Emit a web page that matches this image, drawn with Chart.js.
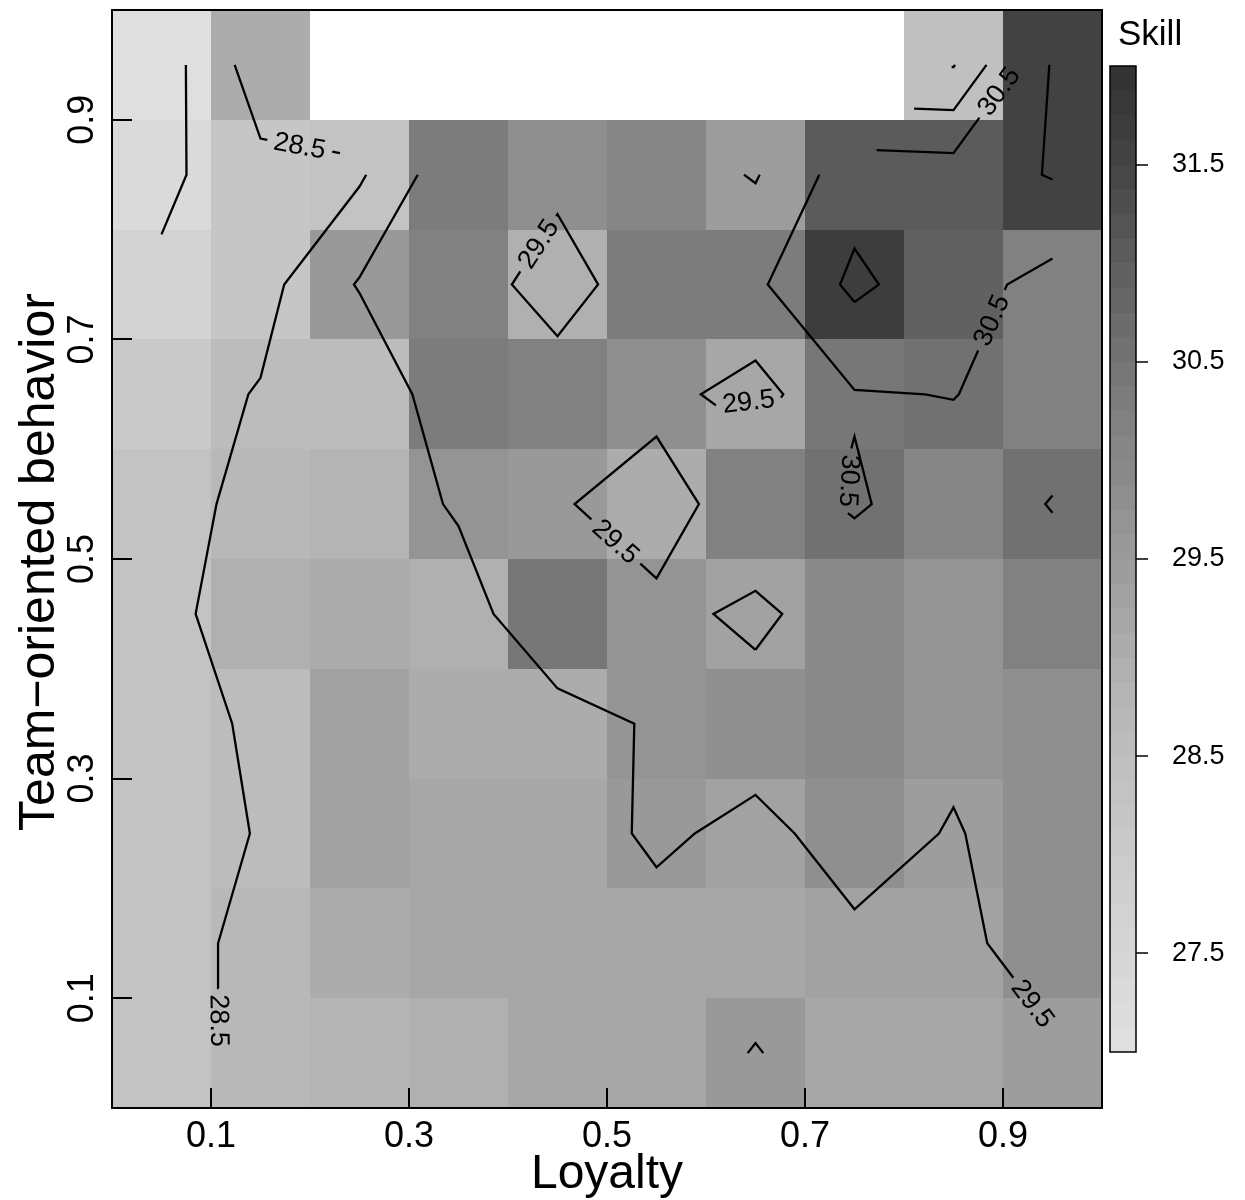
<!DOCTYPE html>
<html lang="en">
<head>
<meta charset="UTF-8">
<title>Skill by Loyalty and Team-oriented behavior</title>
<script src="https://cdn.jsdelivr.net/npm/chart.js"></script>
<style>
    body { margin: 0; background: #fff; }
    canvas { display: block; }
</style>
</head>
<body>
<canvas id="skillChart" width="1245" height="1200"></canvas>
<script>
// cell centres on both axes
const loyalty      = [0.05, 0.15, 0.25, 0.35, 0.45, 0.55, 0.65, 0.75, 0.85, 0.95];
const teamBehavior = [0.05, 0.15, 0.25, 0.35, 0.45, 0.55, 0.65, 0.75, 0.85, 0.95];

// mean skill per cell, one row per team-behavior band (null = no data)
const skillAt05 = [28.30, 28.64, 28.85, 28.95, 29.15, 29.15, 29.53, 29.15, 29.20, 29.42];
const skillAt15 = [28.30, 28.65, 29.05, 29.15, 29.15, 29.23, 29.20, 29.37, 29.35, 29.79];
const skillAt25 = [28.25, 28.53, 29.30, 29.20, 29.14, 29.62, 29.31, 29.79, 29.45, 29.87];
const skillAt35 = [28.30, 28.58, 29.30, 29.10, 29.05, 29.63, 29.85, 29.95, 29.66, 29.80];
const skillAt45 = [28.30, 28.88, 29.05, 28.98, 30.45, 29.73, 29.33, 29.96, 29.65, 30.15];
const skillAt55 = [28.30, 28.66, 28.80, 29.63, 29.60, 29.02, 30.14, 30.58, 30.12, 30.53];
const skillAt65 = [28.07, 28.56, 28.55, 30.33, 30.16, 29.80, 29.13, 30.45, 30.52, 30.15];
const skillAt75 = [27.71, 28.16, 29.58, 30.19, 28.91, 30.35, 30.33, 31.70, 30.89, 30.17];
const skillAt85 = [27.25, 28.24, 28.37, 30.29, 29.83, 30.03, 29.43, 31.09, 31.00, 31.56];
const skillAt95 = [27.00, 29.03, null, null, null, null, null, null, 28.45, 31.60];

const contourLevels = [27.5, 28.5, 29.5, 30.5, 31.5];
const axisTicks = [0.1, 0.3, 0.5, 0.7, 0.9];
const keyTicks = [27.5, 28.5, 29.5, 30.5, 31.5];
const keyRange = [27, 32];

// where each contour label should sit: [level, loyalty, team behavior]
const labelSpots = [
    [28.5, 0.111, 0.071],
    [28.5, 0.190, 0.878],
    [29.5, 0.429, 0.788],
    [29.5, 0.6495, 0.616],
    [29.5, 0.508, 0.515],
    [29.5, 0.930, 0.092],
    [30.5, 0.892, 0.931],
    [30.5, 0.887, 0.718],
    [30.5, 0.737, 0.569]
];

const skill = [skillAt05, skillAt15, skillAt25, skillAt35, skillAt45,
               skillAt55, skillAt65, skillAt75, skillAt85, skillAt95];

// ---- look ----
const FONT = '"Liberation Sans", Arial, Helvetica, sans-serif';
const LABEL_FONT = '27px ' + FONT;
const CANVAS_W = 1245, CANVAS_H = 1200;
const PAD = { left: 112, right: 143, top: 10, bottom: 92 };
const plotW = CANVAS_W - PAD.left - PAD.right;
const plotH = CANVAS_H - PAD.top - PAD.bottom;
const KEY = { left: 1110, width: 26, top: 66, height: 986, bands: 40 };
// grey level along the skill scale
const grayStops = [[27, 224], [27.5, 214], [28, 203], [28.5, 190], [29, 174],
                   [29.5, 155], [30, 136], [30.5, 116], [31, 94], [31.5, 68], [32, 48]];

function grayFor(v) {
    const bw = (keyRange[1] - keyRange[0]) / KEY.bands;
    const q = Math.min(KEY.bands - 1, Math.max(0, Math.floor((v - keyRange[0]) / bw)));
    const vq = keyRange[0] + (q + 0.5) * bw;
    let g = grayStops[grayStops.length - 1][1];
    for (let k = 1; k < grayStops.length; k++) {
        if (vq <= grayStops[k][0]) {
            const [v0, g0] = grayStops[k - 1], [v1, g1] = grayStops[k];
            g = g0 + (g1 - g0) * (vq - v0) / (v1 - v0);
            break;
        }
    }
    g = Math.round(g);
    return 'rgb(' + g + ',' + g + ',' + g + ')';
}

// ---- contours (marching squares on the cell centres) ----
const val = c => skill[c[1]][c[0]];
const edgeKey = (a, b) => [a.join(','), b.join(',')].sort().join('|');

function crossing(level, a, b) {
    const va = val(a), vb = val(b);
    const t = (level - va) / (vb - va);
    return {
        x: loyalty[a[0]] + t * (loyalty[b[0]] - loyalty[a[0]]),
        y: teamBehavior[a[1]] + t * (teamBehavior[b[1]] - teamBehavior[a[1]])
    };
}

function levelSegments(level) {
    const segs = [];
    for (let j = 0; j < teamBehavior.length - 1; j++) {
        for (let i = 0; i < loyalty.length - 1; i++) {
            const all = [[i, j], [i + 1, j], [i + 1, j + 1], [i, j + 1]];
            const cs = all.filter(c => val(c) !== null);
            // a square with one empty corner is contoured as a triangle
            if (cs.length < 3) continue;
            const n = cs.length;
            const hi = cs.map(c => val(c) >= level);
            const cuts = [], found = [];
            for (let e = 0; e < n; e++) {
                const a = cs[e], b = cs[(e + 1) % n];
                if (hi[e] !== hi[(e + 1) % n]) {
                    cuts[e] = { key: edgeKey(a, b), pt: crossing(level, a, b) };
                    found.push(e);
                }
            }
            if (found.length === 2) {
                segs.push([cuts[found[0]], cuts[found[1]]]);
            } else if (found.length === 4) {
                const centreHi = cs.reduce((s, c) => s + val(c), 0) / 4 >= level;
                for (let k = 0; k < 4; k++) {
                    if (hi[k] !== centreHi) segs.push([cuts[(k + 3) % 4], cuts[k]]);
                }
            }
        }
    }
    return segs;
}

function joinSegments(segs) {
    const byKey = new Map();
    segs.forEach((s, n) => s.forEach(end => {
        if (!byKey.has(end.key)) byKey.set(end.key, []);
        byKey.get(end.key).push(n);
    }));
    const used = segs.map(() => false);
    const follow = (n, from) => {
        const firstKey = segs[n][from].key;
        const pts = [segs[n][from].pt, segs[n][1 - from].pt];
        let key = segs[n][1 - from].key;
        used[n] = true;
        for (;;) {
            const next = byKey.get(key).find(m => !used[m]);
            if (next === undefined) break;
            used[next] = true;
            const e = segs[next][0].key === key ? 1 : 0;
            pts.push(segs[next][e].pt);
            key = segs[next][e].key;
        }
        return { pts, closed: key === firstKey && pts.length > 2 };
    };
    const lines = [];
    segs.forEach((s, n) => {
        for (let e = 0; e < 2; e++) {
            if (!used[n] && byKey.get(s[e].key).length === 1) lines.push(follow(n, e));
        }
    });
    segs.forEach((s, n) => { if (!used[n]) lines.push(follow(n, 0)); });
    return lines;
}

// ---- label gaps, worked out in pixels ----
const toPx = p => ({ x: PAD.left + p.x * plotW, y: PAD.top + (1 - p.y) * plotH });
const fromPx = p => ({ x: (p.x - PAD.left) / plotW, y: 1 - (p.y - PAD.top) / plotH });

function cumLen(p) {
    const L = [0];
    for (let k = 1; k < p.length; k++) L.push(L[k - 1] + Math.hypot(p[k].x - p[k - 1].x, p[k].y - p[k - 1].y));
    return L;
}
function pointAt(p, L, s) {
    if (s <= 0) return p[0];
    for (let k = 0; k < p.length - 1; k++) {
        if (s <= L[k + 1]) {
            const seg = L[k + 1] - L[k];
            const t = seg > 0 ? (s - L[k]) / seg : 0;
            return { x: p[k].x + t * (p[k + 1].x - p[k].x), y: p[k].y + t * (p[k + 1].y - p[k].y) };
        }
    }
    return p[p.length - 1];
}
function subPath(p, L, s1, s2) {
    const out = [pointAt(p, L, s1)];
    for (let k = 0; k < p.length; k++) if (L[k] > s1 && L[k] < s2) out.push(p[k]);
    out.push(pointAt(p, L, s2));
    return out;
}
function nearestOnPath(p, q) {
    let best = { s: 0, d: Infinity }, acc = 0;
    for (let k = 0; k < p.length - 1; k++) {
        const dx = p[k + 1].x - p[k].x, dy = p[k + 1].y - p[k].y, len = Math.hypot(dx, dy);
        let t = len > 0 ? ((q.x - p[k].x) * dx + (q.y - p[k].y) * dy) / (len * len) : 0;
        t = Math.max(0, Math.min(1, t));
        const d = Math.hypot(p[k].x + t * dx - q.x, p[k].y + t * dy - q.y);
        if (d < best.d) best = { s: acc + t * len, d };
        acc += len;
    }
    return best;
}

const measureCtx = document.createElement('canvas').getContext('2d');
measureCtx.font = LABEL_FONT;

const pathsByLevel = {};
contourLevels.forEach(level => {
    pathsByLevel[level] = joinSegments(levelSegments(level))
        .map(l => ({ pts: l.pts.map(toPx), closed: l.closed }));
});

const contourLabels = [];
labelSpots.forEach(([level, lx, ly]) => {
    const paths = pathsByLevel[level];
    const anchor = toPx({ x: lx, y: ly });
    let bestIdx = -1, best = null;
    paths.forEach((path, n) => {
        const r = nearestOnPath(path.pts, anchor);
        if (!best || r.d < best.d) { best = r; bestIdx = n; }
    });
    if (bestIdx < 0) return;
    const path = paths[bestIdx];
    const text = level.toFixed(1);
    const need = measureCtx.measureText(text).width + 12;
    const L0 = cumLen(path.pts), total = L0[L0.length - 1];
    let work = path.pts, L = L0, s0 = best.s;
    if (path.closed) {
        work = path.pts.concat(path.pts.slice(1), path.pts.slice(1));
        L = cumLen(work);
        s0 += total;
    }
    let s1 = s0, s2 = s0;
    for (let d = 1; ; d++) {
        s1 = path.closed ? s0 - d : Math.max(0, s0 - d);
        s2 = path.closed ? s0 + d : Math.min(total, s0 + d);
        const A = pointAt(work, L, s1), B = pointAt(work, L, s2);
        if (Math.hypot(B.x - A.x, B.y - A.y) >= need) break;
        if (path.closed ? 2 * d >= total : (s1 === 0 && s2 === total)) break;
    }
    const A = pointAt(work, L, s1), B = pointAt(work, L, s2);
    let angle = Math.atan2(B.y - A.y, B.x - A.x);
    if (angle > Math.PI / 2) angle -= Math.PI;
    if (angle <= -Math.PI / 2) angle += Math.PI;
    // near-vertical labels read downwards
    if (angle < -75 * Math.PI / 180) angle += Math.PI;
    contourLabels.push({ text, centre: fromPx({ x: (A.x + B.x) / 2, y: (A.y + B.y) / 2 }), angle });

    const pieces = [];
    if (path.closed) {
        pieces.push(subPath(work, L, s2, s1 + total));
    } else {
        if (s1 > 0.5) pieces.push(subPath(work, L, 0, s1));
        if (s2 < total - 0.5) pieces.push(subPath(work, L, s2, total));
    }
    paths.splice(bestIdx, 1, ...pieces.map(pts => ({ pts, closed: false })));
});

const contourDatasets = [];
contourLevels.forEach(level => {
    pathsByLevel[level].forEach(path => {
        contourDatasets.push({
            label: 'Skill ' + level,
            data: path.pts.map(fromPx),
            showLine: true,
            borderColor: '#000',
            borderWidth: 2.3,
            pointRadius: 0,
            tension: 0,
            fill: false
        });
    });
});

// ---- drawing plugins ----
const heatmapPlugin = {
    id: 'heatmap',
    beforeDatasetsDraw(chart) {
        const { ctx, scales: { x, y } } = chart;
        const hx = (loyalty[1] - loyalty[0]) / 2, hy = (teamBehavior[1] - teamBehavior[0]) / 2;
        ctx.save();
        skill.forEach((row, j) => row.forEach((v, i) => {
            if (v === null) return;
            const x0 = Math.round(x.getPixelForValue(loyalty[i] - hx));
            const x1 = Math.round(x.getPixelForValue(loyalty[i] + hx));
            const y0 = Math.round(y.getPixelForValue(teamBehavior[j] + hy));
            const y1 = Math.round(y.getPixelForValue(teamBehavior[j] - hy));
            ctx.fillStyle = grayFor(v);
            ctx.fillRect(x0, y0, x1 - x0, y1 - y0);
        }));
        ctx.restore();
    },
    afterDatasetsDraw(chart) {
        const { ctx, scales: { x, y } } = chart;
        ctx.save();
        ctx.fillStyle = '#000';
        ctx.font = LABEL_FONT;
        ctx.textAlign = 'center';
        ctx.textBaseline = 'middle';
        contourLabels.forEach(l => {
            ctx.save();
            ctx.translate(x.getPixelForValue(l.centre.x), y.getPixelForValue(l.centre.y));
            ctx.rotate(l.angle);
            ctx.fillText(l.text, 0, 1);
            ctx.restore();
        });
        ctx.restore();
    }
};

const framePlugin = {
    id: 'frame',
    afterDraw(chart) {
        const { ctx, chartArea: a, scales: { x, y } } = chart;
        ctx.save();
        ctx.strokeStyle = '#000';
        ctx.lineWidth = 2;
        ctx.strokeRect(a.left, a.top, a.right - a.left, a.bottom - a.top);

        // ticks point into the panel
        ctx.beginPath();
        axisTicks.forEach(t => {
            const px = Math.round(x.getPixelForValue(t));
            ctx.moveTo(px, a.bottom);
            ctx.lineTo(px, a.bottom - 20);
            const py = Math.round(y.getPixelForValue(t));
            ctx.moveTo(a.left, py);
            ctx.lineTo(a.left + 20, py);
        });
        ctx.stroke();

        ctx.fillStyle = '#000';
        ctx.font = '36px ' + FONT;
        ctx.textAlign = 'center';
        ctx.textBaseline = 'alphabetic';
        axisTicks.forEach(t => ctx.fillText(t.toFixed(1), x.getPixelForValue(t), a.bottom + 39));
        axisTicks.forEach(t => {
            ctx.save();
            ctx.translate(a.left - 19, y.getPixelForValue(t));
            ctx.rotate(-Math.PI / 2);
            ctx.fillText(t.toFixed(1), 0, 0);
            ctx.restore();
        });

        ctx.font = '48px ' + FONT;
        ctx.fillText('Loyalty', (a.left + a.right) / 2, a.bottom + 80);
        ctx.font = '50px ' + FONT;
        ctx.save();
        ctx.translate(54, 562);
        ctx.rotate(-Math.PI / 2);
        ctx.fillText('Team\u2212oriented behavior', 0, 0);
        ctx.restore();

        // colour key
        const keyY = v => KEY.top + (keyRange[1] - v) / (keyRange[1] - keyRange[0]) * KEY.height;
        const bw = (keyRange[1] - keyRange[0]) / KEY.bands;
        for (let b = 0; b < KEY.bands; b++) {
            const v0 = keyRange[0] + b * bw;
            const yTop = Math.round(keyY(v0 + bw)), yBot = Math.round(keyY(v0));
            ctx.fillStyle = grayFor(v0 + bw / 2);
            ctx.fillRect(KEY.left, yTop, KEY.width, yBot - yTop);
        }
        ctx.lineWidth = 1.5;
        ctx.strokeRect(KEY.left, KEY.top, KEY.width, KEY.height);
        ctx.beginPath();
        keyTicks.forEach(t => {
            const py = Math.round(keyY(t));
            ctx.moveTo(KEY.left + KEY.width, py);
            ctx.lineTo(KEY.left + KEY.width + 12, py);
        });
        ctx.stroke();
        ctx.fillStyle = '#000';
        ctx.font = '27px ' + FONT;
        ctx.textAlign = 'left';
        ctx.textBaseline = 'middle';
        keyTicks.forEach(t => ctx.fillText(t.toFixed(1), KEY.left + 62, keyY(t)));
        ctx.font = '35px ' + FONT;
        ctx.textBaseline = 'alphabetic';
        ctx.fillText('Skill', KEY.left + 8, 45);
        ctx.restore();
    }
};

new Chart(document.getElementById('skillChart').getContext('2d'), {
    type: 'scatter',
    data: { datasets: contourDatasets },
    options: {
        responsive: false,
        animation: false,
        devicePixelRatio: 1,
        layout: { padding: PAD },
        scales: {
            x: { type: 'linear', min: 0, max: 1, display: false },
            y: { type: 'linear', min: 0, max: 1, display: false }
        },
        plugins: {
            legend: { display: false },
            tooltip: { enabled: false }
        }
    },
    plugins: [heatmapPlugin, framePlugin]
});
</script>
</body>
</html>
